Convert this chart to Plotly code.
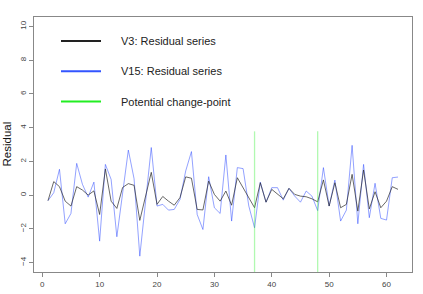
import plotly.graph_objects as go

# ---- data ----
index = list(range(1, 63))
v3_resid = [-0.33, 0.80, 0.50, -0.36, -0.65, 0.50, 0.30, 0.00, 0.25, -1.15,
            1.55, -0.36, -0.79, 0.45, 0.68, 0.58, -1.50, -0.05, 1.35, -0.55,
            -0.08, -0.36, -0.60, -0.15, 1.08, 1.00, -0.85, -0.88, 0.83, 0.04,
            -0.36, 0.24, -0.60, 1.03, 0.44, -0.22, -0.75, 0.73, -0.42, 0.34,
            0.04, -0.22, 0.40, 0.04, -0.06, -0.10, -0.22, -0.40, 0.90, -0.65,
            0.73, -0.75, -0.55, 1.23, -0.95, 1.49, -0.82, 0.20, -0.75, -0.36,
            0.50, 0.34]
v15_resid = [-0.33, 0.14, 1.53, -1.70, -1.09, 1.88, 0.64, -0.12, 0.77, -2.73,
             1.82, 0.93, -2.47, 0.20, 2.67, 0.97, -3.62, -0.40, 2.82, -0.65,
             -0.55, -0.89, -0.85, -0.26, 1.43, 2.58, -1.15, -2.04, 1.09, -0.75,
             -1.09, 2.38, -1.54, 1.63, 1.57, -0.65, -1.94, 0.77, -0.42, 0.44,
             0.44, -0.30, 0.40, -0.06, -0.42, 0.24, -0.06, -0.92, 1.63, -0.65,
             0.89, -1.54, -0.89, 2.95, -1.70, 1.82, -1.34, 0.70, -1.38, -1.48,
             1.03, 1.07]
change_points = [37, 48]
cp_low, cp_high = -5.0, 3.78
legend_labels = ["V3: Residual series", "V15: Residual series", "Potential change-point"]
legend_colors = ["#222222", "#3355ff", "#22ee22"]
x_ticks = [0, 10, 20, 30, 40, 50, 60]
y_ticks = [-4, -2, 0, 2, 4, 6, 8, 10]

W, H = 423, 294
L, R, T, B = 34, 11, 17, 22
pw, ph = W - L - R, H - T - B

fig = go.Figure()
fig.add_trace(go.Scatter(x=index, y=v15_resid, mode="lines",
                         line=dict(color="rgba(40,70,255,0.5)", width=1), showlegend=False))
fig.add_trace(go.Scatter(x=index, y=v3_resid, mode="lines",
                         line=dict(color="rgba(40,40,40,0.7)", width=1), showlegend=False))
for cp in change_points:
    fig.add_trace(go.Scatter(x=[cp, cp], y=[cp_low, cp_high], mode="lines",
                             line=dict(color="rgba(60,240,60,0.4)", width=1.3), showlegend=False))

def px2paper(px, py):
    return (px - L) / pw, (H - B - py) / ph

shapes = []
annotations = []
for i, (lab, col) in enumerate(zip(legend_labels, legend_colors)):
    yy = 41 + 30.3 * i
    x0, y0 = px2paper(61, yy)
    x1, _ = px2paper(101, yy)
    shapes.append(dict(type="line", xref="paper", yref="paper", x0=x0, x1=x1, y0=y0, y1=y0,
                       line=dict(color=col, width=2)))
    tx, _ = px2paper(119, yy)
    annotations.append(dict(xref="paper", yref="paper", x=tx, y=y0, text=lab, showarrow=False,
                            xanchor="left", yanchor="middle",
                            font=dict(family="Liberation Sans, Arial", size=11, color="#222")))

annotations.append(dict(xref="paper", yref="paper", x=-(L - 6) / pw, y=0.5, text="Residual",
                        showarrow=False, textangle=-90, xanchor="center", yanchor="middle",
                        font=dict(family="Liberation Sans, Arial", size=11.5, color="#111")))

axis_common = dict(showgrid=False, zeroline=False, showline=True, mirror=True, automargin=False,
                   linecolor="#888", linewidth=1, ticks="outside", ticklen=4,
                   tickcolor="#888", tickfont=dict(family="Liberation Sans, Arial", size=8, color="#444"))

fig.update_layout(
    width=W, height=H,
    margin=dict(l=L, r=R, t=T, b=B, pad=0, autoexpand=False),
    paper_bgcolor="white", plot_bgcolor="white",
    xaxis=dict(range=[-1.44, 64.44], tickvals=x_ticks, **axis_common),
    yaxis=dict(range=[-4.56, 10.56], tickvals=y_ticks, tickangle=-90, **axis_common),
    shapes=shapes, annotations=annotations, showlegend=False,
)
fig.write_html("out.html")
